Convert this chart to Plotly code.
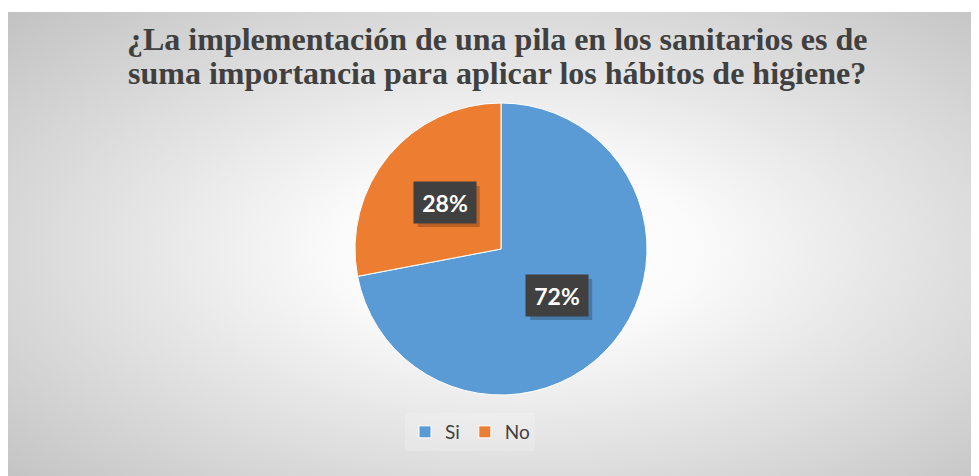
import base64
import math
import plotly.graph_objects as go

# data
labels = ["Si", "No"]
values = [72, 28]
colors = ["#5B9BD5", "#ED7D31"]
title_lines = [
    "¿La implementación de una pila en los sanitarios es de",
    "suma importancia para aplicar los hábitos de higiene?",
]

W, H = 979, 476
OFF = 8  # page body margin shifts everything by 8px


def px_x(x):
    return (x - OFF) / W


def px_y(y):
    return 1 - (y - OFF) / H


# radial grey background like the Excel chart area
svg = (
    "<svg xmlns='http://www.w3.org/2000/svg' width='971' height='464' preserveAspectRatio='none'>"
    "<defs><radialGradient id='g' cx='52%' cy='50%' r='72%'>"
    "<stop offset='0' stop-color='#ffffff'/>"
    "<stop offset='0.25' stop-color='#fbfbfb'/>"
    "<stop offset='1' stop-color='#c2c2c2'/>"
    "</radialGradient></defs>"
    "<rect width='100%' height='100%' fill='url(#g)'/></svg>"
)
bg_src = "data:image/svg+xml;base64," + base64.b64encode(svg.encode()).decode()

# pie placement (reference pixel coords -> paper)
cx, cy, r = px_x(501), px_y(249), 146
dom_x = [cx - r / W, cx + r / W]
dom_y = [cy - r / H, cy + r / H]

fig = go.Figure(go.Pie(
    labels=labels,
    values=values,
    marker=dict(colors=colors, line=dict(color="white", width=1)),
    sort=False,
    direction="clockwise",
    rotation=0,
    textinfo="none",
    hoverinfo="label+percent",
    domain=dict(x=dom_x, y=dom_y),
))

# percentage labels in dark boxes, halfway along the radius of each slice
total = sum(values)
start = 0.0
annotations = []
shapes = []
box_w, box_h = 62, 41
for lab, val in zip(labels, values):
    mid = (start + val / 2) / total * 2 * math.pi
    start += val
    ax = cx + 0.5 * r * math.sin(mid) / W
    ay = cy + 0.5 * r * math.cos(mid) / H
    pct = f"{round(val / total * 100)}%"
    # soft drop shadow behind the label box
    shapes.append(dict(
        type="rect", xref="paper", yref="paper", layer="above",
        x0=ax + (4 - box_w / 2) / W, x1=ax + (4 + box_w / 2) / W,
        y0=ay - (4 + box_h / 2) / H, y1=ay - (4 - box_h / 2) / H,
        fillcolor="rgba(0,0,0,0.22)", line=dict(width=0),
    ))
    annotations.append(dict(
        x=ax, y=ay, xref="paper", yref="paper", showarrow=False,
        text=f"<b>{pct}</b>", width=box_w, height=box_h,
        font=dict(family="Lato", size=23, color="white"),
        bgcolor="#404040", borderpad=0,
    ))

# title, one annotation per line (Excel uses tight line spacing)
for i, line in enumerate(title_lines):
    annotations.append(dict(
        x=px_x(497), y=px_y(39 + 34 * i), xref="paper", yref="paper",
        xanchor="center", yanchor="middle", showarrow=False,
        text=f"<b>{line}</b>",
        font=dict(family="Liberation Serif", size=32, color="#404040"),
    ))

fig.update_layout(
    width=W,
    height=H,
    margin=dict(l=0, r=0, t=0, b=0),
    paper_bgcolor="white",
    legend=dict(
        orientation="h",
        x=px_x(470), xanchor="center",
        y=px_y(432), yanchor="middle",
        font=dict(family="Lato", size=19, color="#404040"),
        bgcolor="rgba(255,255,255,0.2)",
        itemwidth=30,
    ),
    images=[dict(
        source=bg_src, xref="paper", yref="paper",
        x=0, y=px_y(12), sizex=1, sizey=1,
        xanchor="left", yanchor="top", sizing="stretch", layer="below",
    )],
    shapes=shapes,
    annotations=annotations,
)

fig.write_html("out.html")
